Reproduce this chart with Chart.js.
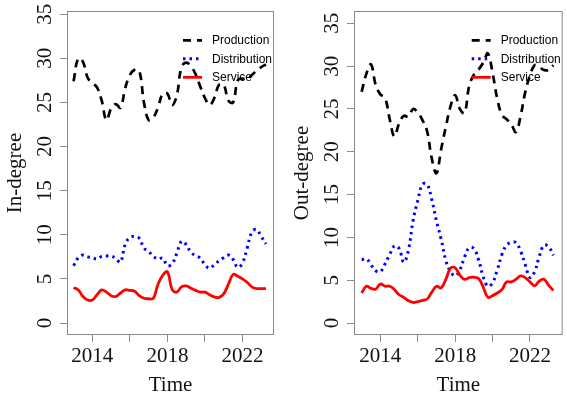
<!DOCTYPE html>
<html>
<head>
<meta charset="utf-8">
<script src="https://cdn.jsdelivr.net/npm/chart.js@4.4.1/dist/chart.umd.min.js"></script>
<style>
  html, body { margin: 0; padding: 0; background: #fff; }
  #wrap { position: relative; width: 567px; height: 396px; overflow: hidden; }
  .panel { position: absolute; top: 0; height: 396px; }
  #panelIn { left: 0; width: 283px; }
  #panelOut { left: 283px; width: 284px; }
</style>
</head>
<body>
<div id="wrap">
  <div class="panel" id="panelIn"><canvas id="inDegreeChart"></canvas></div>
  <div class="panel" id="panelOut"><canvas id="outDegreeChart"></canvas></div>
</div>
<script>
// quarterly time points (x)
const years = [
  2013, 2013.25, 2013.5, 2013.75, 2014, 2014.25, 2014.5, 2014.75,
  2015, 2015.25, 2015.5, 2015.75, 2016, 2016.25, 2016.5, 2016.75,
  2017, 2017.25, 2017.5, 2017.75, 2018, 2018.25, 2018.5, 2018.75,
  2019, 2019.25, 2019.5, 2019.75, 2020, 2020.25, 2020.5, 2020.75,
  2021, 2021.25, 2021.5, 2021.75, 2022, 2022.25, 2022.5, 2022.75,
  2023, 2023.25
];

const seriesNames = ['Production', 'Distribution', 'Service'];
const yTickValues = [0, 5, 10, 15, 20, 25, 30, 35];
const xTickLabels = [2014, 2018, 2022];

// In-degree panel
const inProduction = [27.4, 30.0, 29.6, 27.8, 27.2, 26.7, 25.2, 23.0, 24.3, 24.8, 24.4, 26.6, 28.1, 28.7, 28.6, 25.0,
  23.0, 23.3, 24.4, 26.0, 26.0, 24.7, 25.8, 29.0, 29.5, 29.1, 28.2, 26.8, 25.5, 24.7, 25.5, 27.0,
  27.0, 25.2, 25.0, 27.5, 27.7, 27.6, 28.1, 28.6, 29.0, 29.3];
const inDistribution = [6.5, 7.4, 7.7, 7.5, 7.4, 7.25, 7.55, 7.6, 7.6, 7.3, 6.9, 8.9, 9.7, 9.8, 9.6, 8.5,
  8.1, 7.55, 7.25, 7.35, 6.5, 6.7, 7.9, 9.25, 8.9, 8.0, 7.65, 7.35, 6.6, 6.2, 6.6, 7.05,
  7.4, 7.7, 7.2, 6.3, 6.8, 8.5, 10.3, 10.6, 9.8, 8.95];
const inService = [4.0, 3.75, 3.0, 2.6, 2.6, 3.2, 3.75, 3.5, 3.1, 3.0, 3.4, 3.75, 3.7, 3.6, 3.1, 2.8,
  2.75, 2.8, 4.4, 5.4, 5.8, 3.8, 3.5, 4.1, 4.2, 3.95, 3.7, 3.5, 3.5, 3.2, 2.95, 2.9,
  3.3, 4.4, 5.5, 5.3, 5.0, 4.6, 4.1, 3.9, 3.9, 3.9];

// Out-degree panel
const outProduction = [27.0, 29.1, 30.2, 27.8, 26.7, 26.3, 23.8, 21.8, 23.3, 24.2, 24.1, 25.0, 24.6, 23.7, 22.4, 19.2,
  17.5, 20.3, 22.9, 25.3, 26.6, 25.0, 24.5, 27.7, 29.0, 29.6, 30.4, 31.5, 29.2, 26.2, 24.3, 23.8,
  23.2, 22.3, 24.2, 27.0, 28.9, 30.1, 29.9, 29.55, 29.55, 30.1];
const outDistribution = [7.4, 7.5, 6.8, 6.1, 6.0, 6.9, 8.0, 9.0, 8.7, 7.1, 8.5, 12.0, 14.3, 16.2, 16.2, 14.4,
  11.9, 9.8, 7.3, 6.0, 5.5, 6.2, 7.7, 8.8, 8.7, 7.4, 5.4, 4.3, 4.7, 6.2, 8.0, 9.1,
  9.4, 9.4, 8.4, 6.8, 5.3, 6.0, 7.8, 9.1, 8.9, 7.9];
const outService = [3.5, 4.3, 4.05, 3.95, 4.55, 4.3, 4.3, 3.9, 3.3, 3.0, 2.6, 2.4, 2.5, 2.65, 2.8, 3.6,
  4.3, 4.1, 5.1, 6.4, 6.45, 5.6, 5.1, 5.3, 5.35, 5.2, 4.2, 3.0, 3.2, 3.5, 3.9, 4.8,
  4.8, 5.1, 5.5, 5.3, 4.8, 4.35, 4.9, 5.1, 4.4, 3.8];

const SERIF = '"Liberation Serif", "Times New Roman", serif';
const SANS = '"Liberation Sans", Arial, sans-serif';
const GRAY = '#8a8a8a';

// line looks shared by the plot and the hand-drawn legend
const lineStyles = [
  { color: '#000000', width: 2.7, dash: [8, 6] },
  { color: '#0000ff', width: 3, dash: [2.5, 4] },
  { color: '#ff0000', width: 2.8, dash: [] }
];

const toXY = (vals) => vals.map((v, i) => ({ x: years[i], y: v }));

// R-style frame: box, rotated y labels, axis titles, legend without border
const rFrame = {
  id: 'rFrame',
  beforeDatasetsDraw(chart) {
    const { ctx, chartArea: a } = chart;
    ctx.save();
    ctx.strokeStyle = GRAY;
    ctx.lineWidth = 1;
    ctx.strokeRect(a.left + 0.5, a.top + 0.5, a.right - a.left - 1, a.bottom - a.top - 1);
    ctx.restore();
  },
  afterDatasetsDraw(chart, args, opts) {
    const { ctx } = chart;
    const rows = [40.3, 58.7, 77.3];
    ctx.save();
    seriesNames.forEach((name, i) => {
      const st = lineStyles[i];
      ctx.beginPath();
      ctx.strokeStyle = st.color;
      ctx.lineWidth = st.width;
      ctx.setLineDash(st.dash);
      ctx.moveTo(opts.legendX, rows[i]);
      ctx.lineTo(opts.legendX + 19, rows[i]);
      ctx.stroke();
      ctx.setLineDash([]);
      ctx.fillStyle = '#000';
      ctx.font = '12px ' + SANS;
      ctx.textAlign = 'left';
      ctx.textBaseline = 'middle';
      ctx.fillText(name, opts.legendX + 29, rows[i] + 0.5);
    });
    ctx.restore();
  },
  afterDraw(chart, args, opts) {
    const { ctx, chartArea: a, scales } = chart;
    ctx.save();
    ctx.fillStyle = '#111';
    ctx.font = '21px ' + SERIF;
    ctx.textBaseline = 'alphabetic';
    ctx.textAlign = 'center';

    // y tick labels, written bottom-to-top like R
    scales.y.ticks.forEach(t => {
      if (!yTickValues.includes(t.value)) return;
      const py = scales.y.getPixelForValue(t.value);
      ctx.save();
      ctx.translate(a.left - 16.5, py);
      ctx.rotate(-Math.PI / 2);
      ctx.fillText(String(t.value), 0, 0);
      ctx.restore();
    });

    // x tick labels (only every 4 years gets text)
    xTickLabels.forEach(v => {
      ctx.fillText(String(v), scales.x.getPixelForValue(v), 362);
    });

    // axis titles
    ctx.fillText('Time', (a.left + a.right) / 2, 391);
    ctx.save();
    ctx.translate(a.left - 46, (a.top + a.bottom) / 2);
    ctx.rotate(-Math.PI / 2);
    ctx.fillText(opts.yTitle, 0, 0);
    ctx.restore();

    ctx.restore();
  }
};

function makePanel(canvasId, cfg) {
  const values = [cfg.production, cfg.distribution, cfg.service];
  return new Chart(document.getElementById(canvasId), {
    type: 'line',
    data: {
      datasets: values.map((vals, i) => ({
        label: seriesNames[i],
        data: toXY(vals),
        borderColor: lineStyles[i].color,
        borderWidth: lineStyles[i].width,
        borderDash: lineStyles[i].dash,
        borderCapStyle: 'butt',
        pointRadius: 0,
        tension: 0.4,
        fill: false,
        order: 3 - i
      }))
    },
    options: {
      responsive: true,
      maintainAspectRatio: false,
      animation: false,
      layout: { padding: { top: 11, right: cfg.padRight, left: 0, bottom: 0 } },
      plugins: {
        legend: { display: false },
        tooltip: { enabled: false },
        rFrame: { yTitle: cfg.yTitle, legendX: cfg.legendX }
      },
      scales: {
        x: {
          type: 'linear',
          min: cfg.xMin,
          max: cfg.xMax,
          ticks: { display: false, stepSize: 2, includeBounds: false },
          grid: { drawOnChartArea: false, drawTicks: true, tickLength: 7, color: GRAY, lineWidth: 1 },
          border: { display: false },
          afterFit: (s) => { s.height = 61; }
        },
        y: {
          min: cfg.yMin,
          max: cfg.yMax,
          ticks: { display: false, stepSize: 5, includeBounds: false },
          grid: { drawOnChartArea: false, drawTicks: true, tickLength: 7, color: GRAY, lineWidth: 1 },
          border: { display: false },
          afterFit: (s) => { s.width = cfg.leftGap; }
        }
      }
    },
    plugins: [rFrame]
  });
}

makePanel('inDegreeChart', {
  production: inProduction, distribution: inDistribution, service: inService,
  yTitle: 'In-degree', legendX: 183,
  leftGap: 67, padRight: 9,
  xMin: 2012.65, xMax: 2023.68, yMin: -1.36, yMax: 35.36
});

makePanel('outDegreeChart', {
  production: outProduction, distribution: outDistribution, service: outService,
  yTitle: 'Out-degree', legendX: 188.7,
  leftGap: 71, padRight: 4.3,
  xMin: 2012.59, xMax: 2023.75, yMin: -1.4, yMax: 36.44
});
</script>
</body>
</html>
